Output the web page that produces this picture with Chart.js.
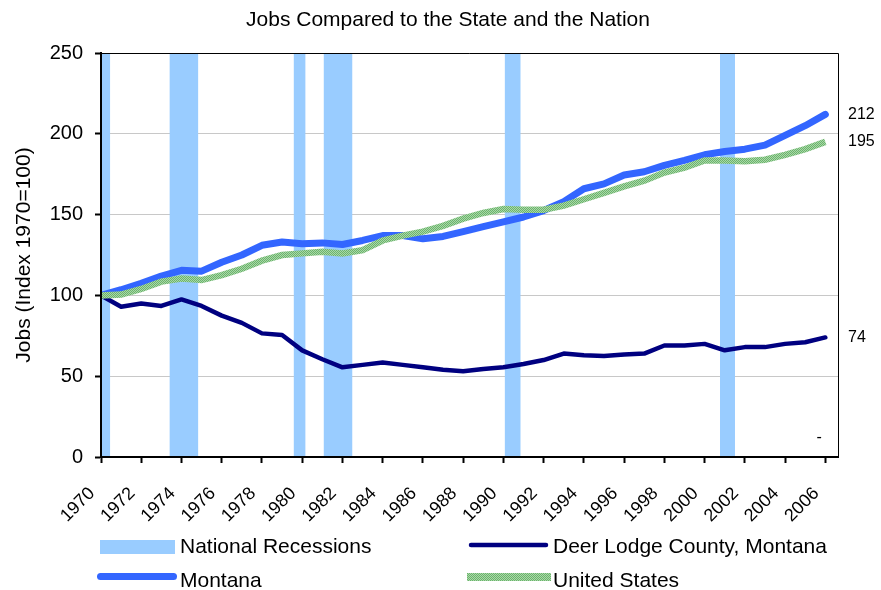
<!DOCTYPE html>
<html>
<head>
<meta charset="utf-8">
<title>Jobs Compared to the State and the Nation</title>
<script src="https://cdn.jsdelivr.net/npm/chart.js@4"></script>
<style>
  html, body { margin: 0; padding: 0; background: #fff; }
  canvas { display: block; }
</style>
</head>
<body>
<canvas id="jobsChart" width="881" height="590"></canvas>
<script>
// Jobs index, 1970 = 100
const years = [1970, 1971, 1972, 1973, 1974, 1975, 1976, 1977, 1978, 1979,
  1980, 1981, 1982, 1983, 1984, 1985, 1986, 1987, 1988, 1989,
  1990, 1991, 1992, 1993, 1994, 1995, 1996, 1997, 1998, 1999,
  2000, 2001, 2002, 2003, 2004, 2005, 2006];

const deerLodge = [100, 93, 95, 93.5, 97.5, 93.5, 87.5, 83, 76.5, 75.5,
  66, 60.5, 55.5, 57, 58.5, 57, 55.5, 54, 53, 54.5,
  55.5, 57.5, 60, 64, 63, 62.5, 63.5, 64, 69, 69,
  70, 66, 68, 68, 70, 71, 74];

const montana = [100, 103.5, 107.5, 112, 115.5, 115, 120.5, 125, 131, 133,
  132, 132.5, 131.5, 134, 137, 137, 135, 136.5, 139.5, 142.5,
  145.5, 148.5, 152.5, 158, 166, 169, 174.5, 176.5, 180.5, 183.5,
  187, 189, 190.5, 193, 199, 205, 212];

const unitedStates = [100, 100.5, 104, 108.5, 110.5, 109.5, 112.5, 116.5, 121.5, 125,
  126, 127, 126, 128, 134, 137, 139.5, 143, 147.5, 151,
  153.5, 153, 153, 155.5, 159.5, 163.5, 167.5, 171, 176, 179,
  183.5, 183.5, 183, 184, 187, 190.5, 195];

// national recessions (fractional years)
const recessionStart = [1969.5, 1973.4, 1979.57, 1981.06, 1990.06, 2000.76];
const recessionEnd = [1970.46, 1974.84, 1980.17, 1982.5, 1990.86, 2001.51];

const xTickLabels = [1970, 1972, 1974, 1976, 1978, 1980, 1982, 1984, 1986, 1988,
  1990, 1992, 1994, 1996, 1998, 2000, 2002, 2004, 2006];
const yTickLabels = [0, 50, 100, 150, 200, 250];

// stray mark near the bottom right of the plot
const strayMark = { x: 2005.7, y: 12, text: '-' };

const FONT = "'Liberation Sans', Arial, Helvetica, sans-serif";
const recessionColor = '#99ccff';
const montanaColor = '#3366ff';
const deerLodgeColor = '#000080';

const canvas = document.getElementById('jobsChart');
const ctx = canvas.getContext('2d');

// speckled green like the original US line
const tile = document.createElement('canvas');
tile.width = 2; tile.height = 2;
const tctx = tile.getContext('2d');
tctx.fillStyle = '#a8d8a8';
tctx.fillRect(0, 0, 2, 2);
tctx.fillStyle = '#6cb36c';
tctx.fillRect(0, 0, 1, 1);
tctx.fillRect(1, 1, 1, 1);
const usPattern = ctx.createPattern(tile, 'repeat');

const toPoints = (vals) => years.map((yr, i) => ({ x: yr, y: vals[i] }));

const recessionPoints = [];
recessionStart.forEach((s, i) => {
  recessionPoints.push({ x: s, y: 250 }, { x: recessionEnd[i], y: 250 }, { x: recessionEnd[i], y: null });
});

const decorations = {
  id: 'decorations',
  afterDatasetsDraw(chart) {
    const { ctx, chartArea: a } = chart;
    ctx.save();
    ctx.strokeStyle = '#000';
    ctx.lineWidth = 1;
    ctx.beginPath();
    ctx.moveTo(a.left, a.top + 0.5);
    ctx.lineTo(a.right + 0.5, a.top + 0.5);
    ctx.lineTo(a.right + 0.5, a.bottom);
    ctx.stroke();
    ctx.lineWidth = 2;
    ctx.beginPath();
    ctx.moveTo(a.left, a.top);
    ctx.lineTo(a.left, a.bottom);
    ctx.lineTo(a.right + 1, a.bottom);
    ctx.stroke();
    ctx.restore();
  },
  afterDraw(chart) {
    const { ctx, scales } = chart;
    ctx.save();
    ctx.fillStyle = '#000';

    // title
    ctx.font = '21px ' + FONT;
    ctx.textAlign = 'center';
    ctx.textBaseline = 'alphabetic';
    ctx.fillText('Jobs Compared to the State and the Nation', 448, 26);

    // end-of-line values
    ctx.font = '16px ' + FONT;
    ctx.textAlign = 'left';
    ctx.textBaseline = 'middle';
    const last = years.length - 1;
    [montana, unitedStates, deerLodge].forEach((vals) => {
      ctx.fillText(String(Math.round(vals[last])), 848, scales.y.getPixelForValue(vals[last]));
    });
    ctx.textAlign = 'center';
    ctx.fillText(strayMark.text, scales.x.getPixelForValue(strayMark.x), scales.y.getPixelForValue(strayMark.y));

    // legend
    ctx.fillStyle = recessionColor;
    ctx.fillRect(100, 540, 75, 14);

    ctx.lineCap = 'round';
    ctx.strokeStyle = montanaColor;
    ctx.lineWidth = 7;
    ctx.beginPath();
    ctx.moveTo(100.5, 576.5);
    ctx.lineTo(173.5, 576.5);
    ctx.stroke();

    ctx.strokeStyle = deerLodgeColor;
    ctx.lineWidth = 4.5;
    ctx.beginPath();
    ctx.moveTo(471, 545);
    ctx.lineTo(546, 545);
    ctx.stroke();

    ctx.fillStyle = usPattern;
    ctx.fillRect(467, 573, 84, 8);

    ctx.fillStyle = '#000';
    ctx.font = '21px ' + FONT;
    ctx.textAlign = 'left';
    ctx.textBaseline = 'alphabetic';
    ctx.fillText('National Recessions', 180, 553);
    ctx.fillText('Montana', 180, 587);
    ctx.fillText('Deer Lodge County, Montana', 553, 553);
    ctx.fillText('United States', 553, 587);
    ctx.restore();
  }
};

new Chart(ctx, {
  type: 'line',
  data: {
    datasets: [
      {
        label: 'National Recessions',
        data: recessionPoints,
        backgroundColor: recessionColor,
        borderWidth: 0,
        pointRadius: 0,
        fill: 'origin',
        spanGaps: false,
        order: 10
      },
      {
        label: 'Deer Lodge County, Montana',
        data: toPoints(deerLodge),
        borderColor: deerLodgeColor,
        borderWidth: 4.5,
        borderJoinStyle: 'round',
        borderCapStyle: 'round',
        pointRadius: 0,
        tension: 0,
        order: 3
      },
      {
        label: 'Montana',
        data: toPoints(montana),
        borderColor: montanaColor,
        borderWidth: 7,
        borderJoinStyle: 'round',
        borderCapStyle: 'round',
        pointRadius: 0,
        tension: 0,
        order: 2
      },
      {
        label: 'United States',
        data: toPoints(unitedStates),
        borderColor: usPattern,
        borderWidth: 6.5,
        pointRadius: 0,
        tension: 0,
        order: 1
      }
    ]
  },
  options: {
    responsive: false,
    animation: false,
    devicePixelRatio: 1,
    layout: { padding: { top: 53, right: 43, bottom: 0, left: 0 } },
    plugins: {
      legend: { display: false },
      title: { display: false },
      tooltip: { enabled: false }
    },
    scales: {
      x: {
        type: 'linear',
        min: 1970,
        max: 2006.63,
        afterFit(scale) { scale.height = 133; },
        afterBuildTicks(scale) { scale.ticks = xTickLabels.map((v) => ({ value: v })); },
        grid: {
          drawOnChartArea: false,
          drawTicks: true,
          tickLength: 6,
          tickColor: '#000',
          tickWidth: 2
        },
        border: { color: '#000', width: 2 },
        ticks: {
          autoSkip: false,
          minRotation: 45,
          maxRotation: 45,
          padding: 20,
          labelOffset: -9,
          color: '#000',
          font: { family: FONT, size: 18 },
          callback: (v) => String(v)
        }
      },
      y: {
        min: 0,
        max: 250,
        afterFit(scale) { scale.width = 101; },
        afterBuildTicks(scale) { scale.ticks = yTickLabels.map((v) => ({ value: v })); },
        grid: {
          color: '#c8c8c8',
          lineWidth: 1,
          tickLength: 6,
          tickColor: '#000',
          tickWidth: 2
        },
        border: { color: '#000', width: 2 },
        ticks: {
          padding: 12,
          color: '#000',
          font: { family: FONT, size: 20 }
        },
        title: {
          display: true,
          text: 'Jobs (Index 1970=100)',
          color: '#000',
          font: { family: FONT, size: 21 },
          padding: { top: 12, bottom: 0 }
        }
      }
    }
  },
  plugins: [decorations]
});
</script>
</body>
</html>
